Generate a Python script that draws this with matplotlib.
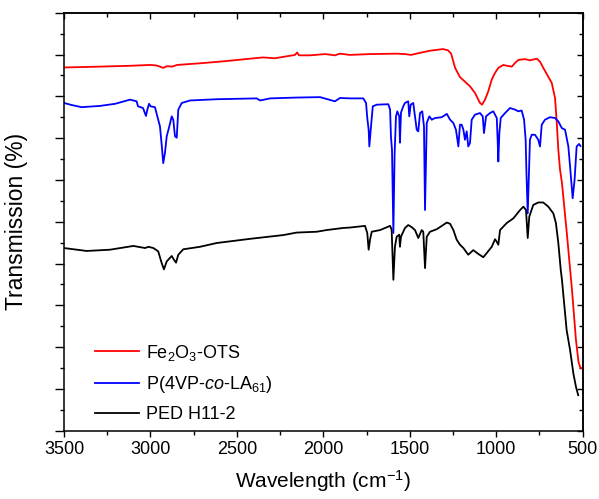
import matplotlib
matplotlib.use("Agg")
import matplotlib.pyplot as plt
from matplotlib.ticker import MultipleLocator, NullFormatter

plt.rcParams['font.family'] = ['Liberation Sans', 'DejaVu Sans']
plt.rcParams['mathtext.fontset'] = 'custom'
plt.rcParams['mathtext.rm'] = 'Liberation Sans'
plt.rcParams['mathtext.it'] = 'Liberation Sans:italic'

# ---- data (wavenumber cm^-1, transmission in arbitrary % units) ----
red_wn = [3500, 3292, 3118, 3003, 2968, 2945, 2927, 2904, 2875, 2846, 2713, 2569, 2424, 2349, 2280,
          2193, 2164, 2152, 2141, 2077, 1990, 1933, 1904, 1846, 1730, 1574, 1528, 1493, 1441, 1383,
          1308, 1279, 1261, 1238, 1210, 1181, 1152, 1123, 1094, 1082, 1065, 1047, 1026, 1007, 988,
          959, 938, 910, 891, 872, 834, 805, 766, 747, 728, 706, 679, 660, 650, 641, 631, 620, 591,
          562, 539, 524, 513, 501]
red_t = [86.9, 87.1, 87.3, 87.5, 87.4, 87.1, 86.8, 87.2, 87.1, 87.5, 87.9, 88.4, 89.0, 89.3, 89.1,
         89.7, 89.9, 90.5, 89.8, 89.8, 90.1, 89.8, 90.2, 89.9, 90.1, 90.2, 90.1, 89.9, 90.4, 90.9,
         91.3, 91.0, 90.2, 86.8, 84.6, 83.5, 82.4, 80.8, 78.4, 78.0, 79.2, 81.1, 84.0, 85.6, 86.8,
         87.5, 87.3, 87.1, 88.0, 88.7, 88.9, 88.6, 89.0, 88.3, 86.8, 85.2, 83.2, 79.6, 73.7, 67.2,
         62.4, 59.3, 46.9, 33.7, 21.7, 16.4, 15.0, 15.0]

blue_wn = [3500, 3454, 3398, 3292, 3205, 3118, 3080, 3072, 3043, 3026, 3018, 3008, 2999, 2974, 2960,
           2945, 2935, 2926, 2916, 2906, 2891, 2877, 2868, 2858, 2848, 2839, 2819, 2771, 2617, 2385,
           2366, 2308, 2154, 2019, 1933, 1904, 1846, 1769, 1753, 1746, 1738, 1734, 1726, 1714, 1691,
           1624, 1614, 1609, 1603, 1595, 1588, 1580, 1572, 1561, 1557, 1551, 1538, 1528, 1509, 1503,
           1495, 1480, 1470, 1460, 1451, 1441, 1428, 1418, 1412, 1402, 1387, 1373, 1354, 1315, 1286,
           1267, 1248, 1233, 1219, 1210, 1200, 1190, 1181, 1171, 1162, 1152, 1142, 1123, 1094, 1078,
           1071, 1059, 1036, 1017, 997, 992, 988, 982, 974, 949, 920, 891, 872, 853, 839, 830, 825,
           818, 811, 805, 795, 776, 757, 747, 737, 718, 689, 660, 641, 621, 602, 583, 573, 558, 547,
           535, 521, 513]
blue_t = [78.4, 77.9, 77.4, 77.7, 78.2, 79.2, 78.8, 77.6, 77.2, 75.3, 76.8, 78.2, 77.6, 77.4, 75.2,
          72.8, 68.4, 64.0, 66.5, 70.4, 72.8, 75.2, 74.4, 70.4, 70.1, 76.8, 78.4, 79.0, 79.3, 79.5,
          79.0, 79.5, 79.7, 79.8, 78.8, 79.6, 79.5, 79.5, 78.4, 74.8, 72.0, 68.0, 72.0, 77.6, 78.0,
          78.1, 76.8, 70.4, 67.2, 47.3, 66.0, 75.2, 76.4, 75.2, 68.9, 76.1, 77.6, 78.4, 78.8, 75.2,
          78.0, 78.4, 75.2, 72.0, 71.6, 76.0, 76.4, 72.8, 52.8, 73.6, 75.2, 74.4, 74.8, 75.0, 75.8,
          74.4, 73.6, 72.0, 68.0, 73.2, 73.2, 72.0, 69.6, 71.6, 68.0, 68.8, 74.4, 75.6, 76.0, 75.2,
          71.2, 75.2, 76.0, 76.4, 74.8, 69.6, 64.4, 71.2, 74.8, 76.0, 77.2, 76.8, 76.4, 76.6, 74.4, 69.6, 61.2,
          52.0, 61.2, 69.6, 70.8, 70.8, 69.6, 68.0, 73.2, 74.4, 75.0, 74.8, 74.0, 72.4, 72.0, 68.0, 63.2, 55.6, 60.0,
          68.0, 68.6, 68.1]

black_wn = [3500, 3369, 3234, 3099, 3031, 3012, 2983, 2955, 2935, 2922, 2906, 2877, 2864, 2852, 2839,
            2810, 2713, 2617, 2424, 2232, 2154, 2038, 1981, 1885, 1846, 1759, 1746, 1738, 1730, 1720,
            1672, 1614, 1605, 1595, 1586, 1576, 1561, 1557, 1551, 1528, 1509, 1489, 1470, 1451, 1431,
            1422, 1412, 1402, 1383, 1344, 1286, 1267, 1248, 1229, 1210, 1190, 1162, 1133, 1104, 1075,
            1055, 1026, 1007, 997, 988, 978, 939, 901, 862, 843, 828, 818, 809, 786, 757, 728, 699,
            670, 655, 641, 627, 620, 593, 573, 554, 539, 526]
black_t = [43.7, 43.0, 43.3, 44.2, 43.7, 44.0, 43.7, 42.9, 40.1, 38.6, 40.5, 41.8, 40.9, 40.2, 42.1,
           43.4, 44.0, 44.9, 45.9, 46.8, 47.4, 47.6, 48.0, 48.5, 48.6, 49.0, 47.3, 43.3, 45.7, 47.6,
           48.0, 49.0, 48.1, 36.1, 44.0, 46.4, 46.9, 44.0, 46.4, 48.5, 49.2, 48.7, 48.0, 46.1, 48.0,
           47.6, 38.9, 46.4, 47.6, 48.2, 49.8, 49.5, 48.0, 45.7, 44.5, 43.7, 42.1, 43.2, 42.3, 41.5,
           42.5, 44.0, 45.8, 45.2, 44.5, 48.0, 49.7, 50.8, 52.8, 53.6, 52.8, 46.1, 51.2, 54.0, 54.6, 54.6, 53.6,
           52.0, 49.7, 44.9, 38.5, 36.1, 24.1, 19.3, 13.7, 10.5, 8.5]

labels = ['Fe$_2$O$_3$-OTS', 'P(4VP-$\\mathit{co}$-LA$_{61}$)', 'PED H11-2']
colors = ['#FF0000', '#0000FF', '#000000']

fig = plt.figure(figsize=(5.99, 4.99), dpi=100)
ax = fig.add_axes([64/599, (499-430.7)/499, (582.7-64)/599, (430.7-12.7)/499])

ax.plot(red_wn, red_t, color=colors[0], lw=1.3, label=labels[0])
ax.plot(blue_wn, blue_t, color=colors[1], lw=1.3, label=labels[1])
ax.plot(black_wn, black_t, color=colors[2], lw=1.3, label=labels[2])

ax.set_xlim(3500, 500)
ax.set_ylim(0, 100)
ax.xaxis.set_major_locator(MultipleLocator(500))
ax.xaxis.set_minor_locator(MultipleLocator(250))
ax.yaxis.set_major_locator(MultipleLocator(10))
ax.yaxis.set_minor_locator(MultipleLocator(5))
ax.yaxis.set_major_formatter(NullFormatter())

for s in ax.spines.values():
    s.set_linewidth(1.1)

ax.tick_params(axis='x', which='major', direction='out', length=4.5, width=1.0, labelsize=13, pad=3,
               top=False)
ax.tick_params(axis='x', which='minor', direction='out', length=2.6, width=1.0, top=False)
ax.tick_params(axis='y', which='major', direction='out', length=6.5, width=1.0, right=False)
ax.tick_params(axis='y', which='minor', direction='out', length=3.0, width=1.0, right=False)

top = ax.secondary_xaxis('top')
top.xaxis.set_major_locator(MultipleLocator(500))
top.xaxis.set_minor_locator(MultipleLocator(250))
top.xaxis.set_major_formatter(NullFormatter())
top.tick_params(which='major', direction='in', length=4.2, width=1.0)
top.tick_params(which='minor', direction='in', length=3.0, width=1.0)
top.spines['top'].set_linewidth(1.1)

right = ax.secondary_yaxis('right')
right.yaxis.set_major_locator(MultipleLocator(10))
right.yaxis.set_minor_locator(MultipleLocator(5))
right.yaxis.set_major_formatter(NullFormatter())
right.tick_params(which='major', direction='in', length=4.0, width=1.0)
right.tick_params(which='minor', direction='in', length=3.0, width=1.0)
right.spines['right'].set_linewidth(1.1)

ax.set_xlabel('Wavelength (cm$^{-1}$)', fontsize=15, labelpad=7)
ax.set_ylabel('Transmission (%)', fontsize=16.5, labelpad=16)

leg = ax.legend(loc='lower left', bbox_to_anchor=(0.036, -0.012), frameon=False, fontsize=13,
                handlelength=2.4, handletextpad=0.4, labelspacing=0.62, borderpad=0.2)
for line in leg.get_lines():
    line.set_linewidth(1.3)

fig.savefig('out.png', dpi=100)
